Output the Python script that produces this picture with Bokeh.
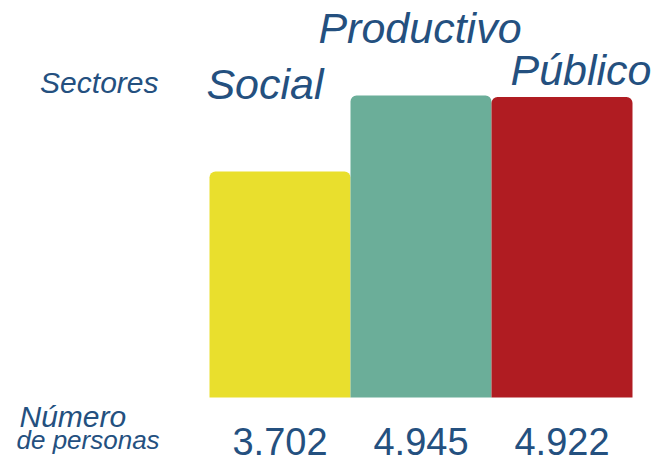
import numpy as np
from bokeh.plotting import figure
from bokeh.models import ColumnDataSource, Range1d, Label
from bokeh.core.properties import value
from bokeh.embed import file_html
from bokeh.resources import INLINE

# ---- data ----
categories = ["Social", "Productivo", "Público"]
personas = [3702, 4945, 4922]
value_labels = ["3.702", "4.945", "4.922"]
row_header_top = "Sectores"
row_header_bottom = ["Número", "de personas"]

# ---- styles (not data) ----
bar_colors = ["#e9df2d", "#6bae99", "#b01c22"]
text_color = "#24507f"
cat_x_offsets = [-15, -1, 19]
cat_y_offsets = [-87, -68, -27]
FONT = "Liberation Sans"

W, H = 663, 463
px_per_unit = 302 / 4945.0
base_px = 66  # pixels from frame bottom to bar baseline
y_start = -base_px / px_per_unit
y_end = y_start + H / px_per_unit
x_start = -279.5 / 141.0
x_end = x_start + W / 141.0

xs = list(np.arange(len(categories)))
src = ColumnDataSource(dict(
    x=xs, top=personas, cat=categories, val=value_labels, color=bar_colors,
    zero=[0] * len(categories), xo=cat_x_offsets, yo=cat_y_offsets,
))

p = figure(width=W, height=H, output_backend="svg", toolbar_location=None,
           x_range=Range1d(x_start, x_end), y_range=Range1d(y_start, y_end),
           x_axis_type=None, y_axis_type=None, min_border=0)
p.outline_line_color = None
p.grid.visible = False
p.background_fill_color = "white"
p.border_fill_color = "white"

p.vbar(x="x", top="top", bottom=0, width=1.0, source=src, fill_color="color",
       line_color=None, border_radius=(6, 6, 0, 0))

p.text(x="x", y="top", text="cat", source=src, x_offset="xo", y_offset="yo",
       text_align="center", text_baseline="alphabetic", text_color=text_color,
       text_font=value(FONT), text_font_style="italic", text_font_size="43px")

p.text(x="x", y="zero", text="val", source=src, y_offset=44,
       text_align="center", text_baseline="alphabetic", text_color=text_color,
       text_font=value(FONT), text_font_size="38px")

p.add_layout(Label(x=158, y=381, x_units="screen", y_units="screen",
                   text=row_header_top, text_align="right", text_baseline="alphabetic",
                   text_color=text_color, text_font=FONT, text_font_style="italic",
                   text_font_size="30px"))
p.add_layout(Label(x=19, y=47, x_units="screen", y_units="screen",
                   text=row_header_bottom[0], text_align="left", text_baseline="alphabetic",
                   text_color=text_color, text_font=FONT, text_font_style="italic",
                   text_font_size="30px"))
p.add_layout(Label(x=16, y=24, x_units="screen", y_units="screen",
                   text=row_header_bottom[1], text_align="left", text_baseline="alphabetic",
                   text_color=text_color, text_font=FONT, text_font_style="italic",
                   text_font_size="26px"))

open("out.html", "w").write(file_html(p, INLINE))
